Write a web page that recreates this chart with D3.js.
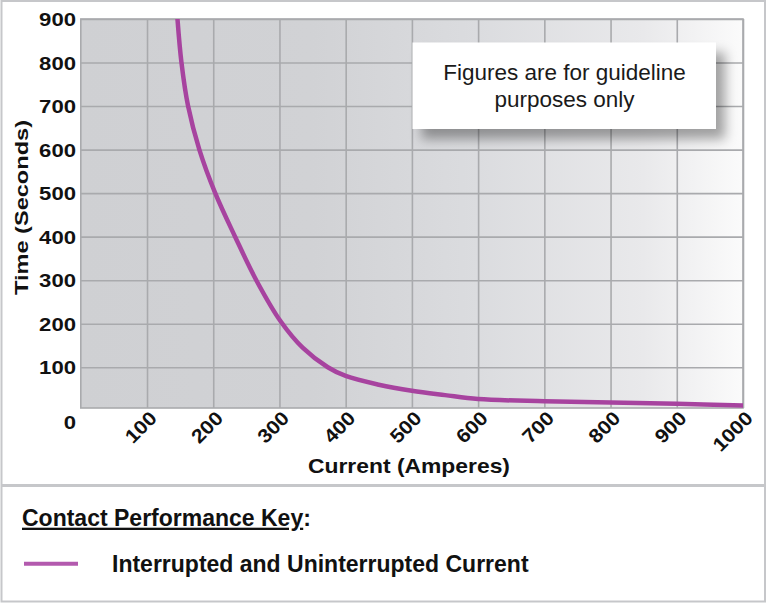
<!DOCTYPE html>
<html><head><meta charset="utf-8">
<script src="https://cdn.jsdelivr.net/npm/d3@7"></script>
<style>
body{margin:0;background:#fff}
svg{display:block}
text{font-family:"Liberation Sans",Arial,Helvetica,sans-serif}
</style>
</head><body>
<svg id="c" width="768" height="603"></svg>
<script>
// ---- data ----
const currentA = [146, 152, 162, 179, 203, 233, 265, 302, 335, 373, 400, 450, 500, 550, 600, 700, 800, 900, 1000];
const timeS    = [900, 800, 700, 600, 500, 400, 300, 205, 145, 100, 80, 60, 46, 36, 27, 22, 19, 16, 12];
const xTickValues = [100, 200, 300, 400, 500, 600, 700, 800, 900, 1000];
const yTickValues = [100, 200, 300, 400, 500, 600, 700, 800, 900];
const xTitle = "Current (Amperes)";
const yTitle = "Time (Seconds)";
const noteLines = ["Figures are for guideline", "purposes only"];
const keyTitle = "Contact Performance Key";
const seriesName = "Interrupted and Uninterrupted Current";

// ---- setup ----
const svg = d3.select("#c");
const L = 80.8, R = 743, T = 19, B = 408;
const x = d3.scaleLinear().domain([0, 1000]).range([L, R]);
const y = d3.scaleLinear().domain([0, 900]).range([410.8, 19]);
const gridColor = "#a9aaad";
const curveColor = "#a7439f";

const defs = svg.append("defs");
const grad = defs.append("linearGradient").attr("id", "bg").attr("x1", "0").attr("x2", "1").attr("y1", "0").attr("y2", "0");
[[0, "#cfd0d3"], [0.35, "#d1d2d5"], [0.6, "#dbdcdf"], [0.85, "#e9e9eb"], [1, "#fbfbfb"]]
  .forEach(([o, c]) => grad.append("stop").attr("offset", o).attr("stop-color", c));
const f = defs.append("filter").attr("id", "sh").attr("x", "-20%").attr("y", "-30%").attr("width", "150%").attr("height", "180%");
f.append("feDropShadow").attr("dx", 9).attr("dy", 10).attr("stdDeviation", 6)
  .attr("flood-color", "#000").attr("flood-opacity", 0.35);
defs.append("clipPath").attr("id", "clip").append("rect")
  .attr("x", L).attr("y", T).attr("width", R - L).attr("height", B - T);

// outer frame
svg.append("rect").attr("x", 1.5).attr("y", 1).attr("width", 763.5).attr("height", 600.5)
  .attr("fill", "none").attr("stroke", "#c6c7ca").attr("stroke-width", 2);
svg.append("line").attr("x1", 1).attr("x2", 766).attr("y1", 485.5).attr("y2", 485.5)
  .attr("stroke", "#c6c7ca").attr("stroke-width", 3);

// plot background
svg.append("rect").attr("x", L).attr("y", T).attr("width", R - L).attr("height", B - T).attr("fill", "url(#bg)");

// gridlines via axes
const gx = svg.append("g").attr("transform", `translate(0,${B})`)
  .call(d3.axisBottom(x).tickValues(xTickValues).tickSize(-(B - T)).tickFormat(""));
const gy = svg.append("g").attr("transform", `translate(${L},0)`)
  .call(d3.axisLeft(y).tickValues(yTickValues).tickSize(-(R - L)).tickFormat(""));
[gx, gy].forEach(g => {
  g.select(".domain").remove();
  g.selectAll("line").attr("stroke", gridColor).attr("stroke-width", 1.6);
});
svg.append("rect").attr("x", L).attr("y", T).attr("width", R - L).attr("height", B - T)
  .attr("fill", "none").attr("stroke", gridColor).attr("stroke-width", 1.6);

// curve
const pts = currentA.map((c, i) => [c, timeS[i]]);
svg.append("path").datum(pts).attr("clip-path", "url(#clip)")
  .attr("fill", "none").attr("stroke", curveColor).attr("stroke-width", 4.5).attr("stroke-linecap", "round")
  .attr("d", d3.line().x(d => x(d[0])).y(d => y(d[1])).curve(d3.curveCatmullRom.alpha(0.5)));

// y tick labels
svg.append("g").selectAll("text").data(yTickValues).join("text")
  .attr("x", 76).attr("y", d => y(d) + 7)
  .attr("text-anchor", "end").attr("font-weight", "bold").attr("font-size", 18.5).attr("fill", "#111")
  .attr("textLength", d => String(d).length * 12.3).attr("lengthAdjust", "spacingAndGlyphs")
  .text(d => d);
svg.append("text").attr("x", 76).attr("y", 429.3)
  .attr("text-anchor", "end").attr("font-weight", "bold").attr("font-size", 18.5).attr("fill", "#111")
  .attr("textLength", 12.3).attr("lengthAdjust", "spacingAndGlyphs").text(0);

// x tick labels (rotated)
svg.append("g").selectAll("text").data(xTickValues).join("text")
  .attr("transform", d => `translate(${x(d) + 11},419.5) rotate(-45)`)
  .attr("text-anchor", "end").attr("font-weight", "bold").attr("font-size", 19.5).attr("fill", "#111")
  .attr("textLength", d => String(d).length * 11.8).attr("lengthAdjust", "spacingAndGlyphs")
  .text(d => d);

// axis titles
svg.append("text").attr("x", 409).attr("y", 473.3).attr("text-anchor", "middle")
  .attr("font-weight", "bold").attr("font-size", 21).attr("fill", "#111")
  .attr("textLength", 202).attr("lengthAdjust", "spacingAndGlyphs").text(xTitle);
svg.append("text").attr("transform", "translate(28,207.5) rotate(-90)").attr("text-anchor", "middle")
  .attr("font-weight", "bold").attr("font-size", 18.5).attr("fill", "#111")
  .attr("textLength", 175).attr("lengthAdjust", "spacingAndGlyphs").text(yTitle);

// note box
svg.append("rect").attr("x", 412.5).attr("y", 42.5).attr("width", 303.5).attr("height", 86.5)
  .attr("fill", "#fff").attr("filter", "url(#sh)");
svg.append("g").selectAll("text").data(noteLines).join("text")
  .attr("x", 564.5).attr("y", (d, i) => 80 + i * 27).attr("text-anchor", "middle")
  .attr("font-size", 22.5).attr("fill", "#1a1a1a").text(d => d);

// key
const kt = svg.append("text").attr("x", 22).attr("y", 525.7).attr("font-weight", "bold").attr("font-size", 23).attr("fill", "#111");
kt.append("tspan").attr("text-decoration", "underline").text(keyTitle);
kt.append("tspan").text(":");
svg.append("line").attr("x1", 24).attr("x2", 78).attr("y1", 563.7).attr("y2", 563.7)
  .attr("stroke", "#b35aae").attr("stroke-width", 4);
svg.append("text").attr("x", 112).attr("y", 571.7).attr("font-weight", "bold").attr("font-size", 23).attr("fill", "#111")
  .text(seriesName);
</script>
</body></html>
